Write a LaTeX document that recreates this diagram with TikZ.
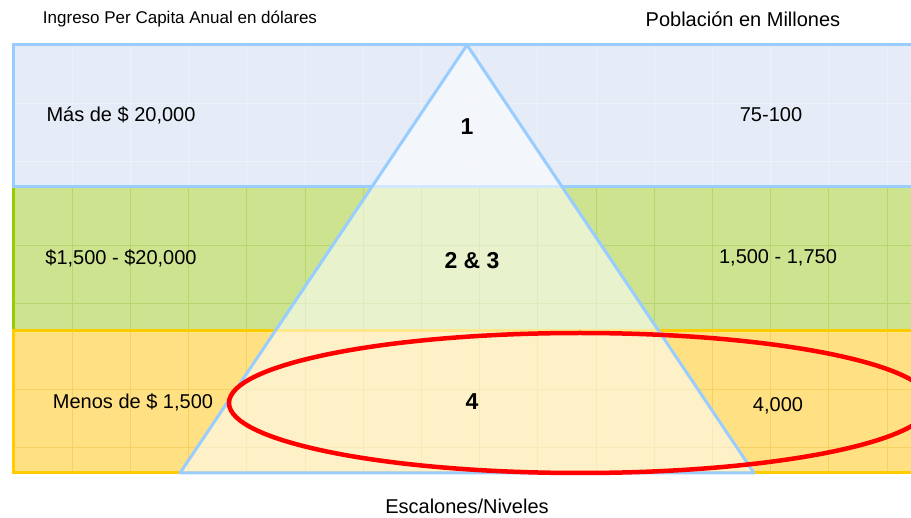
\documentclass[tikz,border=0pt]{standalone}
\usepackage{fontspec}
\setmainfont{Liberation Sans}
\definecolor{bandblue}{HTML}{E6ECF7}
\definecolor{edgeblue}{HTML}{99CCFF}
\definecolor{bandgreen}{HTML}{CDE38F}
\definecolor{gridgreen}{HTML}{B8D66E}
\definecolor{edgegreen}{HTML}{99CC00}
\definecolor{bandyellow}{HTML}{FFE184}
\definecolor{gridyellow}{HTML}{F5D062}
\definecolor{edgeyellow}{HTML}{FFCC00}
\definecolor{ovalred}{HTML}{FF0000}
\tikzset{
  lbl/.style={font=\fontsize{20}{24}\selectfont, inner sep=0pt, text=black},
  small/.style={font=\fontsize{17}{20}\selectfont, inner sep=0pt, text=black},
  tier/.style={font=\bfseries\fontsize{23}{27}\selectfont, inner sep=0pt, text=black},
  gridb/.style={draw=white, opacity=0.3, line width=0.8pt},
  gridg/.style={draw=gridgreen, line width=0.8pt},
  gridy/.style={draw=gridyellow, line width=0.8pt},
}
\begin{document}
\begin{tikzpicture}[x=1pt,y=-1pt]
\useasboundingbox (0,0) rectangle (911,518);
\begin{scope}
\clip (0,0) rectangle (911,518);
% band fills
\fill[bandblue] (13,45) rectangle (940,187);
\fill[bandgreen] (13,187) rectangle (940,331);
\fill[bandyellow] (13,331) rectangle (940,473);
% grids
\foreach \k in {1,...,16} {
  \draw[gridb] ({14+58.2*\k},45) -- ({14+58.2*\k},187);
  \draw[gridg] ({14+58.2*\k},187) -- ({14+58.2*\k},331);
  \draw[gridy] ({14+58.2*\k},331) -- ({14+58.2*\k},473);
}
\foreach \y in {103,161} \draw[gridb] (13,\y) -- (940,\y);
\foreach \y in {245,303} \draw[gridg] (13,\y) -- (940,\y);
\foreach \y in {389,447} \draw[gridy] (13,\y) -- (940,\y);
% band borders
\draw[edgegreen, line width=3pt] (13,187) -- (13,331);
\draw[edgeyellow, line width=3pt] (940,331) -- (13,331) -- (13,473) -- (940,473);
\draw[edgeblue, line width=3pt] (940,45) -- (13,45) -- (13,187) -- (940,187);
% pyramid
\coordinate (apex) at (467,45);
\coordinate (bl) at (180,473);
\coordinate (br) at (754,473);
\fill[white, opacity=0.55] (apex) -- (bl) -- (br) -- cycle;
\draw[edgeblue, line width=3pt, line join=round] (apex) -- (bl) -- (br) -- cycle;
% oval
\draw[ovalred, line width=4.5pt] (580,403) ellipse [x radius=351, y radius=70];
\end{scope}
% texts
\node[small] (hdrleft) at (180,19) {Ingreso Per Capita Anual en dólares};
\node[lbl] (hdrright) at (743,19) {Población en Millones};
\node[lbl] (inc1) at (121,115) {Más de \$ 20,000};
\node[lbl] (inc2) at (121,258) {\$1,500 - \$20,000};
\node[lbl] (inc3) at (133,402) {Menos de \$ 1,500};
\node[tier] (t1) at (467,127) {1};
\node[tier] (t2) at (472,261) {2 \& 3};
\node[tier] (t4) at (472,402) {4};
\node[lbl] (pop1) at (771,115) {75-100};
\node[lbl] (pop2) at (778,258) {1,500 - 1,750};
\node[lbl] (pop3) at (778,406) {4,000};
\node[lbl] (foot) at (467,506) {Escalones/Niveles};
\end{tikzpicture}
\end{document}
